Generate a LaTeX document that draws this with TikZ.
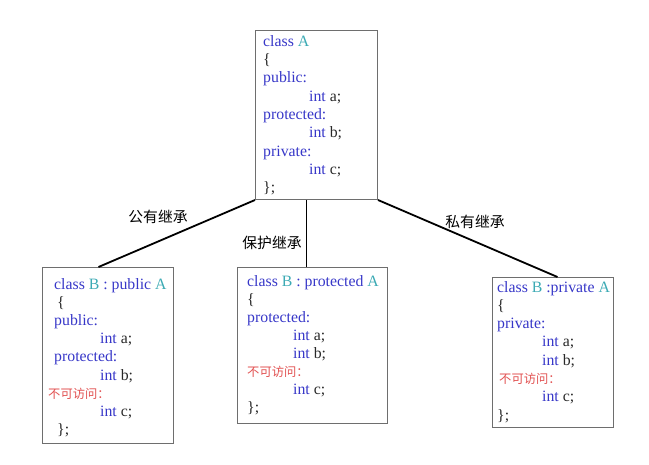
\documentclass[tikz,border=0pt]{standalone}
\usepackage{fontspec}
\setmainfont{Liberation Serif}
\newfontfamily\cjk{Noto Sans CJK SC}
\definecolor{kw}{RGB}{55,55,200}
\definecolor{cn}{RGB}{60,170,180}
\definecolor{na}{RGB}{225,80,80}
\definecolor{frame}{RGB}{110,110,110}
\definecolor{txt}{RGB}{40,40,40}
\tikzset{
  box/.style={draw=frame, line width=1pt, anchor=north west, inner sep=0pt},
  code/.style={anchor=base west, inner sep=0pt, font=\fontsize{15.8}{18}\selectfont, text=kw},
  noacc/.style={anchor=base west, inner sep=0pt, font=\cjk\fontsize{12.3}{14}\selectfont, text=na},
  kind/.style={inner sep=0pt, font=\cjk\fontsize{14.8}{16}\selectfont},
  link/.style={line width=1.8pt}
}
\begin{document}
\begin{tikzpicture}[x=1pt,y=-1pt]
\useasboundingbox (0,0) rectangle (649,464);
\def\cl#1#2#3#4{\node[code] (#1) at (#2,#3) {#4};}
\def\na#1#2#3{\node[noacc] (#1) at (#2,#3) {不可访问：};}
% boxes
\node[box, minimum width=122pt, minimum height=169pt] (A) at (255,30) {};
\node[box, minimum width=131pt, minimum height=176pt] (pub) at (42,267) {};
\node[box, minimum width=150pt, minimum height=156pt] (pro) at (237,267) {};
\node[box, minimum width=121pt, minimum height=150pt] (pri) at (492,277) {};
% class A
\cl{a0}{263}{46}{class \textcolor{cn}{A}}
\cl{a1}{263}{64.4}{\textcolor{txt}{\{}}
\cl{a2}{263}{82.7}{public:}
\cl{a3}{309}{101.1}{int \textcolor{txt}{a;}}
\cl{a4}{263}{119.4}{protected:}
\cl{a5}{309}{137.8}{int \textcolor{txt}{b;}}
\cl{a6}{263}{156.1}{private:}
\cl{a7}{309}{174.5}{int \textcolor{txt}{c;}}
\cl{a8}{263}{192.8}{\textcolor{txt}{\};}}
% public
\cl{b0}{54}{289}{class \textcolor{cn}{B} : public \textcolor{cn}{A}}
\cl{b1}{57}{307.2}{\textcolor{txt}{\{}}
\cl{b2}{54}{325.4}{public:}
\cl{b3}{100}{343.6}{int \textcolor{txt}{a;}}
\cl{b4}{54}{361.8}{protected:}
\cl{b5}{100}{380}{int \textcolor{txt}{b;}}
\na{b6}{48}{398.5}
\cl{b7}{100}{416.4}{int \textcolor{txt}{c;}}
\cl{b8}{57}{434.6}{\textcolor{txt}{\};}}
% protected
\cl{c0}{247}{286}{class \textcolor{cn}{B} : protected \textcolor{cn}{A}}
\cl{c1}{247}{304.1}{\textcolor{txt}{\{}}
\cl{c2}{247}{322.2}{protected:}
\cl{c3}{293}{340.3}{int \textcolor{txt}{a;}}
\cl{c4}{293}{358.4}{int \textcolor{txt}{b;}}
\na{c5}{247}{376}
\cl{c6}{293}{394.6}{int \textcolor{txt}{c;}}
\cl{c7}{247}{412.7}{\textcolor{txt}{\};}}
% private
\cl{d0}{497}{292}{class \textcolor{cn}{B} :private \textcolor{cn}{A}}
\cl{d1}{497}{310.3}{\textcolor{txt}{\{}}
\cl{d2}{497}{328.6}{private:}
\cl{d3}{542}{346.9}{int \textcolor{txt}{a;}}
\cl{d4}{542}{365.2}{int \textcolor{txt}{b;}}
\na{d5}{499}{383.5}
\cl{d6}{542}{401.8}{int \textcolor{txt}{c;}}
\cl{d7}{497}{420.1}{\textcolor{txt}{\};}}
% inheritance
\draw[link] (A.south west) -- ([xshift=-9.5]pub.north);
\draw[link] ([xshift=-10]A.south) -- ([xshift=-6]pro.north);
\draw[link] (A.south east) -- ([xshift=4.5]pri.north);
\node[kind] (kpub) at (158,217) {公有继承};
\node[kind] (kpro) at (272,243) {保护继承};
\node[kind] (kpri) at (475,222) {私有继承};
\end{tikzpicture}
\end{document}
